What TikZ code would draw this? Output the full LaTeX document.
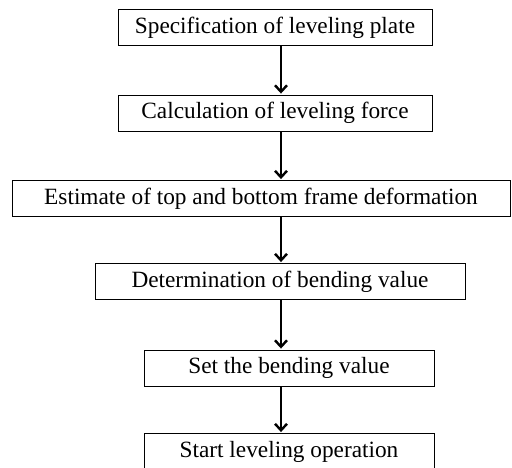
\documentclass[tikz,border=0pt]{standalone}
\usepackage{fontspec}
\setmainfont{Liberation Serif}
\usetikzlibrary{arrows.meta}

\begin{document}
\begin{tikzpicture}[x=1pt, y=-1pt,
    stagebox/.style={draw, line width=0.9pt, inner sep=0pt, minimum height=36pt,
      font=\fontsize{23.3}{28}\selectfont},
    flowarrow/.style={line width=2.6pt, shorten >=1pt,
      -{Straight Barb[length=6.5pt,width=12pt,line width=2.4pt]}}]
    \useasboundingbox (0,0) rectangle (512,468);
    \clip (0,0) rectangle (512,468);
    \node[stagebox, minimum width=314pt] (spec) at (275,27.75) {Specification of leveling plate};
    \node[stagebox, minimum width=314pt] (force) at (275,113) {Calculation of leveling force};
    \node[stagebox, minimum width=498pt] (deform) at (261,198.5) {Estimate of top and bottom frame deformation};
    \node[stagebox, minimum width=370pt] (bend) at (280,281.5) {Determination of bending value};
    \node[stagebox, minimum width=290pt] (set) at (289,368) {Set the bending value};
    \node[stagebox, minimum width=290pt] (start) at (289,451.5) {Start leveling operation};
    \coordinate (col) at (281,0);

    \path[flowarrow]
      (spec.south -| col) edge (force.north -| col)
      (force.south -| col) edge (deform.north -| col)
      (deform.south -| col) edge (bend.north -| col)
      (bend.south -| col) edge (set.north -| col)
      (set.south -| col) edge (start.north -| col);
\end{tikzpicture}
\end{document}
